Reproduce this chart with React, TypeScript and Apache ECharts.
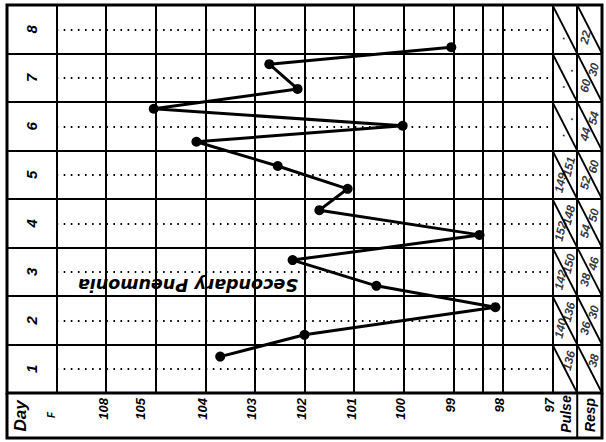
import React, { useEffect, useRef } from "react";
import * as echarts from "echarts";

// ---- data ----
const days = ["1", "2", "3", "4", "5", "6", "7", "8"];
// position of each reading on the day scale (day d row spans d-0.5 .. d+0.5)
const readingTimes = [1.25, 1.7, 2.27, 2.71, 3.24, 3.76, 4.27, 4.71, 5.18, 5.68, 6.01, 6.36, 6.77, 7.28, 7.63];
const temperatures = [103.7, 102.0, 98.15, 100.55, 102.24, 98.47, 101.7, 101.13, 102.54, 104.18, 100.02, 105.04, 102.14, 102.71, 99.04];
const tempTickLabels = ["108", "105", "104", "103", "102", "101", "100", "99", "98", "97"];
const tempTickValues = [106, 105.25, 104, 103, 102, 101, 100, 99, 98, 97];
const normalTemp = 98.4;
const pulseMorning = ["", "140", "142", "152", "149", ".", ".", "."];
const pulseEvening = ["136", "136", "150", "148", "151", ".", ".", ""];
const respMorning = ["", "36", "38", "54", "52", "44", "60", "22"];
const respEvening = ["38", "30", "46", "50", "60", "54", "30", ""];
const diagnosis = "Secondary Pneumonia";

// ---- axis layout (degrees F) ----
const X_MIN = 96; // right border
const X_MAX = 108; // left border
const TEMP_LEFT = 107; // end of day column
const TEMP_RIGHT = 97; // start of pulse column
const PULSE_RESP = 96.5; // pulse / resp separator

const FONT = "'Liberation Sans', Arial, sans-serif";

function buildTableData() {
  const out: any[] = [];
  days.forEach((_, i) => {
    const d = i + 1;
    const add = (txt: string, x: number, y: number) => {
      if (txt) out.push({ name: txt, value: [x, y] });
    };
    add(pulseMorning[i], TEMP_RIGHT - 0.5 / 3, d - 1 / 6);
    add(pulseEvening[i], TEMP_RIGHT - 1 / 3, d + 1 / 6);
    add(respMorning[i], PULSE_RESP - 0.5 / 3, d - 1 / 6);
    add(respEvening[i], PULSE_RESP - 1 / 3, d + 1 / 6);
  });
  return out;
}

function buildMarkLines() {
  const lines: any[] = [];
  days.forEach((_, i) => {
    const d = i + 1;
    lines.push([
      { coord: [TEMP_LEFT, d], lineStyle: { color: "#000", width: 2, type: [1.6, 5.5] } },
      { coord: [TEMP_RIGHT, d] },
    ]);
    lines.push([
      { coord: [TEMP_RIGHT, d + 0.5], lineStyle: { color: "#000", width: 1.8, type: "solid" } },
      { coord: [PULSE_RESP, d - 0.5] },
    ]);
    lines.push([
      { coord: [PULSE_RESP, d + 0.5], lineStyle: { color: "#000", width: 1.8, type: "solid" } },
      { coord: [X_MIN, d - 0.5] },
    ]);
  });
  lines.push([
    { coord: [normalTemp, 0.5], lineStyle: { color: "#000", width: 2, type: "solid" } },
    { coord: [normalTemp, 8.5] },
  ]);
  lines.push([
    { coord: [PULSE_RESP, 0.5], lineStyle: { color: "#000", width: 2, type: "solid" } },
    { coord: [PULSE_RESP, 8.5] },
  ]);
  return lines;
}

const option: any = {
  animation: false,
  backgroundColor: "#fff",
  grid: {
    left: 7,
    right: 4,
    top: 5,
    bottom: 49,
    show: true,
    borderColor: "#000",
    borderWidth: 3,
    backgroundColor: "transparent",
  },
  xAxis: {
    type: "value",
    min: X_MIN,
    max: X_MAX,
    interval: 1,
    inverse: true,
    axisLine: { show: false },
    axisTick: { show: false },
    axisLabel: { show: false },
    splitLine: { show: true, lineStyle: { color: "#000", width: 2 } },
  },
  yAxis: [
    {
      type: "category",
      data: days,
      boundaryGap: true,
      axisLine: { show: false },
      axisTick: { show: false },
      axisLabel: { show: false },
      splitLine: { show: true, lineStyle: { color: "#000", width: 2 } },
    },
    { type: "value", min: 0.5, max: 8.5, show: false },
  ],
  series: [
    {
      type: "line",
      xAxisIndex: 0,
      yAxisIndex: 1,
      data: temperatures.map((t, i) => [t, readingTimes[i]]),
      symbol: "circle",
      symbolSize: 10,
      itemStyle: { color: "#000" },
      lineStyle: { color: "#000", width: 3 },
      z: 5,
      markLine: {
        silent: true,
        symbol: "none",
        label: { show: false },
        data: buildMarkLines(),
      },
    },
    {
      type: "scatter",
      xAxisIndex: 0,
      yAxisIndex: 1,
      symbol: "circle",
      symbolSize: 1,
      itemStyle: { color: "transparent" },
      data: buildTableData(),
      label: {
        show: true,
        position: "inside",
        formatter: "{b}",
        rotate: 76,
        color: "#000",
        fontSize: 12,
        fontWeight: "bold",
        fontStyle: "italic",
        fontFamily: FONT,
      },
      z: 6,
    },
  ],
};

export default function App() {
  const ref = useRef<HTMLDivElement>(null);
  useEffect(() => {
    document.body.style.margin = "0";
    const chart = echarts.init(ref.current!, undefined, { renderer: "svg" });
    chart.setOption(option);
    const px = (x: number, y: number) =>
      chart.convertToPixel({ xAxisIndex: 0, yAxisIndex: 1 }, [x, y]) as number[];
    const [leftX, gridBottom] = px(X_MAX, 0.5);
    const rightX = px(X_MIN, 0.5)[0];
    const sepX = px(PULSE_RESP, 0.5)[0];
    const rowBottom = gridBottom + 45;
    const labelTop = gridBottom + 5;
    const rot = Math.PI / 2;
    const txt = (text: string, x: number, y: number, size: number, align: string, extra: any = {}) => ({
      type: "text",
      x,
      y,
      rotation: rot,
      style: {
        text,
        fill: "#000",
        fontSize: size,
        fontWeight: "bold",
        fontStyle: "italic",
        fontFamily: FONT,
        align,
        verticalAlign: "middle",
        ...extra,
      },
      z: 10,
    });
    const graphic: any[] = [
      {
        type: "polyline",
        shape: { points: [[leftX, gridBottom], [leftX, rowBottom], [rightX, rowBottom], [rightX, gridBottom]] },
        style: { stroke: "#000", lineWidth: 3, fill: "none" },
        z: 10,
      },
      {
        type: "line",
        shape: { x1: sepX, y1: gridBottom, x2: sepX, y2: rowBottom },
        style: { stroke: "#000", lineWidth: 2 },
        z: 10,
      },
    ];
    tempTickValues.forEach((v, i) => {
      graphic.push(txt(tempTickLabels[i], px(v, 0.5)[0] - 3, labelTop, 13, "right"));
    });
    days.forEach((d, i) => {
      const y = px(X_MAX, i + 1)[1];
      graphic.push(txt(d, (leftX + px(TEMP_LEFT, 1)[0]) / 2, y, 15, "center"));
    });
    graphic.push(txt("Day", leftX + 13, gridBottom + 23, 17, "center"));
    graphic.push(txt("F", px(TEMP_LEFT, 1)[0] - 5, gridBottom + 22, 10, "center"));
    graphic.push(txt("Pulse", (px(TEMP_RIGHT, 1)[0] + sepX) / 2 + 1, gridBottom + 21, 14, "center"));
    graphic.push(txt("Resp", (sepX + rightX) / 2, gridBottom + 22, 14, "center"));
    const [cx, cy] = px(104.35, 2.72);
    graphic.push({
      type: "text",
      x: cx,
      y: cy,
      rotation: Math.PI,
      style: {
        text: diagnosis,
        fill: "#000",
        fontSize: 17.5,
        fontWeight: "bold",
        fontStyle: "italic",
        fontFamily: "'DejaVu Sans', sans-serif",
        align: "center",
        verticalAlign: "middle",
      },
      z: 10,
    });
    chart.setOption({ graphic });
    return () => chart.dispose();
  }, []);
  return <div ref={ref} style={{ position: "absolute", left: 0, top: 0, width: 606, height: 442 }} />;
}
